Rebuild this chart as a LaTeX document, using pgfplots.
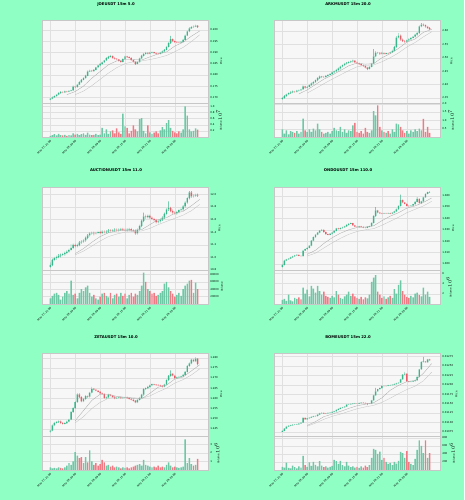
\documentclass[border=0pt]{standalone}
\usepackage{pgfplots}
\pgfplotsset{compat=1.18}
\usepackage{pgfplotstable}
\usepackage{fontspec}
\setmainfont{DejaVu Sans}
\definecolor{bgc}{RGB}{143,255,196}
\definecolor{upc}{RGB}{56,182,140}
\definecolor{dnc}{RGB}{236,92,104}
\definecolor{upv}{RGB}{110,200,166}
\definecolor{dnv}{RGB}{240,122,132}
\colorlet{axbg}{black!3}
\newcommand{\tickfont}{\fontsize{2.6}{3}\selectfont}
\newcommand{\titlefont}{\fontsize{3.8}{4.5}\selectfont\bfseries}

\pgfplotsset{
 base/.style={scale only axis, width=166pt, xmin=-8, xmax=152, xtick={0,24,48,72,96,120},
   axis background/.style={fill=axbg}, axis line style={draw=black!22, line width=0.3pt},
   grid=major, grid style={draw=black!12, line width=0.25pt},
   ytick pos=right, yticklabel pos=right, ylabel near ticks,
   tick style={draw=black!60, line width=0.25pt}, major tick length=1.2pt, tick align=outside,
   tick label style={font=\tickfont}, label style={font=\tickfont},
   scaled y ticks=false, /pgf/number format/assume math mode=true,
   yticklabel style={/pgf/number format/fixed, /pgf/number format/fixed zerofill, /pgf/number format/1000 sep={}, inner sep=1pt},
   ylabel style={inner sep=1pt},
   unbounded coords=discard},
 priceax/.style={base, height=83pt, xticklabels={}, xtick style={draw=none}, ylabel={Price}},
 candax/.style={priceax, ybar stacked, bar shift=0pt},
 maax/.style={priceax, hide axis, axis background/.style={}},
 volax/.style={base, height=34pt, ymin=0, xtick pos=bottom,
   xticklabels={{May 27, 21:00},{May 28, 03:00},{May 28, 09:00},{May 28, 15:00},{May 28, 21:00},{May 29, 03:00}},
   xticklabel style={rotate=45, anchor=north east, inner sep=0.8pt}},
 cb/.style={ybar, bar shift=0pt, draw=none, forget plot},
 sb/.style={draw=none, forget plot},
}

% stacked candles: base (invisible) l, lower wick, body, upper wick
\newcommand{\candles}[1]{%
 \addplot[sb, fill=none, bar width=1.4] table[x=x, y=l] {#1};
 \addplot[sb, fill=upc, bar width=0.35] table[x=x, y expr={\thisrow{c}>=\thisrow{o} ? min(\thisrow{o},\thisrow{c})-\thisrow{l} : 0}] {#1};
 \addplot[sb, fill=dnc, bar width=0.35] table[x=x, y expr={\thisrow{c}<\thisrow{o} ? min(\thisrow{o},\thisrow{c})-\thisrow{l} : 0}] {#1};
 \addplot[sb, fill=upc, bar width=1.4] table[x=x, y expr={\thisrow{c}>=\thisrow{o} ? \thisrow{c}-\thisrow{o} : 0}] {#1};
 \addplot[sb, fill=dnc, bar width=1.4] table[x=x, y expr={\thisrow{c}<\thisrow{o} ? \thisrow{o}-\thisrow{c} : 0}] {#1};
 \addplot[sb, fill=upc, bar width=0.35] table[x=x, y expr={\thisrow{c}>=\thisrow{o} ? \thisrow{h}-max(\thisrow{o},\thisrow{c}) : 0}] {#1};
 \addplot[sb, fill=dnc, bar width=0.35] table[x=x, y expr={\thisrow{c}<\thisrow{o} ? \thisrow{h}-max(\thisrow{o},\thisrow{c}) : 0}] {#1};
}
\newcommand{\vols}[1]{%
 \addplot[cb, bar width=1.4, fill=upv] table[x=x, y expr={\thisrow{c}>=\thisrow{o} ? \thisrow{v} : nan}] {#1};
 \addplot[cb, bar width=1.4, fill=dnv] table[x=x, y expr={\thisrow{c}<\thisrow{o} ? \thisrow{v} : nan}] {#1};
}
\newcommand{\mas}[1]{%
 \addplot[black!35, line width=0.3pt, mark=none] table[x=x, y=a] {#1};
 \addplot[black!25, line width=0.3pt, mark=none] table[x=x, y=b] {#1};
}

% ---------------- JOEUSDT ----------------
\pgfplotstableread{
x o h l c v
0 .1690 .1697 .1688 .1694 .04
2 .1694 .1703 .1692 .1700 .06
4 .1700 .1709 .1698 .1706 .09
6 .1706 .1714 .1703 .1712 .05
8 .1712 .1722 .1710 .1719 .10
10 .1719 .1727 .1717 .1724 .06
12 .1724 .1726 .1719 .1722 .05
14 .1722 .1730 .1720 .1727 .07
16 .1727 .1729 .1722 .1725 .04
18 .1725 .1732 .1723 .1729 .06
20 .1729 .1734 .1726 .1731 .05
22 .1731 .1752 .1729 .1748 .12
24 .1748 .1750 .1741 .1745 .08
26 .1745 .1760 .1743 .1757 .10
28 .1757 .1771 .1755 .1768 .06
30 .1768 .1781 .1765 .1778 .09
32 .1778 .1790 .1776 .1786 .12
34 .1786 .1800 .1784 .1796 .07
36 .1796 .1819 .1794 .1815 .14
38 .1815 .1823 .1812 .1819 .08
40 .1819 .1822 .1813 .1817 .06
42 .1817 .1826 .1815 .1822 .07
44 .1822 .1836 .1820 .1833 .10
46 .1833 .1845 .1830 .1842 .06
48 .1842 .1852 .1839 .1849 .08
50 .1849 .1859 .1846 .1856 .30
52 .1856 .1867 .1853 .1864 .12
54 .1864 .1878 .1862 .1874 .25
56 .1874 .1884 .1871 .1880 .10
58 .1880 .1889 .1877 .1884 .18
60 .1884 .1886 .1872 .1875 .22
62 .1875 .1878 .1869 .1872 .12
64 .1872 .1874 .1866 .1869 .28
66 .1869 .1871 .1859 .1862 .15
68 .1862 .1865 .1855 .1858 .10
70 .1858 .1873 .1856 .1870 .76
72 .1870 .1886 .1868 .1882 .35
74 .1882 .1885 .1876 .1879 .30
76 .1879 .1882 .1873 .1876 .12
78 .1876 .1878 .1863 .1866 .20
80 .1866 .1868 .1855 .1858 .38
82 .1858 .1860 .1845 .1849 .25
84 .1849 .1860 .1847 .1857 .18
86 .1857 .1877 .1855 .1873 .58
88 .1873 .1889 .1871 .1885 .62
90 .1885 .1896 .1882 .1893 .20
92 .1893 .1902 .1890 .1898 .12
94 .1898 .1900 .1891 .1894 .38
96 .1894 .1902 .1892 .1899 .15
98 .1899 .1904 .1896 .1901 .10
100 .1901 .1903 .1894 .1897 .14
102 .1897 .1899 .1891 .1894 .18
104 .1894 .1897 .1890 .1893 .12
106 .1893 .1902 .1891 .1899 .22
108 .1899 .1908 .1897 .1905 .32
110 .1905 .1914 .1902 .1911 .25
112 .1911 .1929 .1909 .1925 .45
114 .1925 .1945 .1922 .1941 .55
116 .1941 .1973 .1938 .1959 .30
118 .1959 .1962 .1946 .1950 .20
120 .1950 .1953 .1942 .1946 .15
122 .1946 .1949 .1941 .1945 .12
124 .1945 .1948 .1940 .1943 .18
126 .1943 .1950 .1941 .1947 .14
128 .1947 .1960 .1945 .1956 .25
130 .1956 .1979 .1954 .1975 1.00
132 .1975 .1997 .1972 .1993 .70
134 .1993 .2011 .1990 .2007 .25
136 .2007 .2016 .2004 .2012 .18
138 .2012 .2020 .2009 .2015 .20
140 .2015 .2023 .2012 .2019 .28
142 .2019 .2021 .2009 .2012 .24
}\tA
\pgfplotstableread{
x a b
16 .1712 nan
24 .1726 .1712
32 .1750 .1728
40 .1785 .1752
48 .1815 .1780
56 .1845 .1808
64 .1862 .1832
72 .1868 .1850
80 .1868 .1858
88 .1866 .1862
96 .1880 .1868
104 .1893 .1876
112 .1902 .1886
120 .1928 .1903
128 .1945 .1922
136 .1972 .1948
144 .1995 .1978
}\mA

% ---------------- ARKMUSDT ----------------
\pgfplotstableread{
x o h l c v
0 2.346 2.353 2.343 2.350 .45
2 2.350 2.360 2.347 2.357 .20
4 2.357 2.366 2.354 2.363 .40
6 2.363 2.371 2.360 2.368 .15
8 2.368 2.374 2.365 2.371 .35
10 2.371 2.377 2.368 2.374 .30
12 2.374 2.376 2.369 2.373 .25
14 2.373 2.380 2.371 2.377 .35
16 2.377 2.381 2.374 2.378 .20
18 2.378 2.385 2.375 2.382 .30
20 2.382 2.398 2.380 2.393 1.10
22 2.393 2.395 2.385 2.388 .40
24 2.388 2.394 2.386 2.391 .30
26 2.391 2.401 2.389 2.398 .45
28 2.398 2.407 2.396 2.404 .30
30 2.404 2.412 2.401 2.409 .50
32 2.409 2.419 2.406 2.416 .40
34 2.416 2.427 2.413 2.424 .80
36 2.424 2.433 2.421 2.430 .45
38 2.430 2.432 2.424 2.428 .30
40 2.428 2.432 2.425 2.429 .20
42 2.429 2.435 2.426 2.432 .25
44 2.432 2.439 2.429 2.436 .30
46 2.436 2.443 2.433 2.440 .20
48 2.440 2.448 2.437 2.445 .35
50 2.445 2.452 2.442 2.449 .55
52 2.449 2.458 2.446 2.455 .40
54 2.455 2.463 2.452 2.460 .35
56 2.460 2.470 2.457 2.467 .60
58 2.467 2.475 2.464 2.472 .30
60 2.472 2.481 2.469 2.478 .45
62 2.478 2.484 2.475 2.481 .25
64 2.481 2.487 2.478 2.484 .40
66 2.484 2.489 2.481 2.486 .35
68 2.486 2.493 2.483 2.489 .70
70 2.489 2.491 2.480 2.483 .85
72 2.483 2.486 2.476 2.479 .30
74 2.479 2.482 2.473 2.476 .25
76 2.476 2.479 2.469 2.472 .35
78 2.472 2.475 2.466 2.469 .20
80 2.469 2.472 2.460 2.463 .55
82 2.463 2.466 2.454 2.458 .30
84 2.458 2.469 2.456 2.466 .25
86 2.466 2.481 2.464 2.478 .40
88 2.478 2.532 2.476 2.505 1.55
90 2.505 2.524 2.502 2.519 1.30
92 2.519 2.522 2.514 2.518 1.90
94 2.518 2.521 2.511 2.515 .60
96 2.515 2.522 2.513 2.518 .40
98 2.518 2.520 2.511 2.514 .30
100 2.514 2.520 2.512 2.517 .25
102 2.517 2.519 2.513 2.516 .35
104 2.516 2.523 2.514 2.520 .20
106 2.520 2.530 2.518 2.526 .45
108 2.526 2.544 2.524 2.540 .30
110 2.540 2.580 2.538 2.575 .80
112 2.575 2.592 2.572 2.583 .75
114 2.583 2.586 2.564 2.568 .60
116 2.568 2.571 2.559 2.563 .40
118 2.563 2.566 2.556 2.560 .25
120 2.560 2.568 2.558 2.565 .35
122 2.565 2.572 2.562 2.569 .20
124 2.569 2.577 2.566 2.574 .40
126 2.574 2.582 2.571 2.579 .30
128 2.579 2.589 2.576 2.586 .45
130 2.586 2.596 2.583 2.592 .35
132 2.592 2.621 2.589 2.617 .50
134 2.617 2.629 2.614 2.624 .40
136 2.624 2.627 2.618 2.622 1.08
138 2.622 2.625 2.612 2.616 .30
140 2.616 2.619 2.608 2.611 .60
142 2.611 2.614 2.603 2.606 .25
}\tB
\pgfplotstableread{
x a b
16 2.365 nan
24 2.380 2.368
32 2.400 2.385
40 2.420 2.403
48 2.435 2.420
56 2.452 2.436
64 2.470 2.452
72 2.480 2.466
80 2.476 2.472
88 2.478 2.473
96 2.500 2.485
104 2.515 2.500
112 2.535 2.518
120 2.558 2.540
128 2.570 2.557
136 2.595 2.578
144 2.606 2.597
}\mB

% ---------------- AUCTIONUSDT ----------------
\pgfplotstableread{
x o h l c v
0 10.85 10.92 10.83 10.88 15000
2 10.88 10.98 10.86 10.96 22000
4 10.96 11.01 10.94 10.99 28000
6 10.99 11.03 10.96 11.01 30000
8 11.01 11.05 10.99 11.03 25000
10 11.03 11.06 11.00 11.04 12000
12 11.04 11.07 11.02 11.05 20000
14 11.05 11.09 11.03 11.07 30000
16 11.07 11.11 11.05 11.09 35000
18 11.09 11.14 11.07 11.12 28000
20 11.12 11.21 11.10 11.15 63000
22 11.15 11.22 11.13 11.20 25000
24 11.20 11.22 11.16 11.18 28000
26 11.18 11.22 11.16 11.20 15000
28 11.20 11.26 11.18 11.24 30000
30 11.24 11.27 11.22 11.25 40000
32 11.25 11.29 11.23 11.27 35000
34 11.27 11.33 11.25 11.31 45000
36 11.31 11.37 11.29 11.35 50000
38 11.35 11.40 11.33 11.38 30000
40 11.38 11.41 11.36 11.39 20000
42 11.39 11.41 11.35 11.38 25000
44 11.38 11.41 11.36 11.39 15000
46 11.39 11.42 11.37 11.40 12000
48 11.40 11.42 11.37 11.39 20000
50 11.39 11.43 11.37 11.41 28000
52 11.41 11.43 11.38 11.40 30000
54 11.40 11.43 11.38 11.41 22000
56 11.41 11.45 11.39 11.43 18000
58 11.43 11.45 11.40 11.42 30000
60 11.42 11.45 11.40 11.43 15000
62 11.43 11.46 11.41 11.44 25000
64 11.44 11.46 11.41 11.43 28000
66 11.43 11.46 11.41 11.44 20000
68 11.44 11.47 11.42 11.45 30000
70 11.45 11.47 11.42 11.44 22000
72 11.44 11.46 11.41 11.43 28000
74 11.43 11.46 11.41 11.44 15000
76 11.44 11.47 11.42 11.45 25000
78 11.45 11.47 11.41 11.43 30000
80 11.43 11.45 11.40 11.42 20000
82 11.42 11.44 11.36 11.38 28000
84 11.38 11.46 11.36 11.44 25000
86 11.44 11.52 11.42 11.50 35000
88 11.50 11.60 11.48 11.58 50000
90 11.58 11.71 11.56 11.65 85000
92 11.65 11.68 11.61 11.64 60000
94 11.64 11.68 11.62 11.66 40000
96 11.66 11.68 11.61 11.63 35000
98 11.63 11.65 11.59 11.61 28000
100 11.61 11.63 11.57 11.59 30000
102 11.59 11.61 11.54 11.56 22000
104 11.56 11.59 11.54 11.57 25000
106 11.57 11.62 11.55 11.60 30000
108 11.60 11.65 11.58 11.63 35000
110 11.63 11.71 11.61 11.69 55000
112 11.69 11.78 11.67 11.76 60000
114 11.76 11.89 11.74 11.78 45000
116 11.78 11.80 11.72 11.74 35000
118 11.74 11.76 11.69 11.71 28000
120 11.71 11.73 11.68 11.70 20000
122 11.70 11.74 11.68 11.72 25000
124 11.72 11.77 11.70 11.75 30000
126 11.75 11.78 11.73 11.76 22000
128 11.76 11.83 11.74 11.81 40000
130 11.81 11.89 11.79 11.87 50000
132 11.87 11.96 11.85 11.94 55000
134 11.94 12.05 11.92 12.03 63000
136 12.03 12.05 11.95 11.97 65000
138 11.97 12.00 11.95 11.98 30000
140 11.98 12.01 11.96 11.99 58000
142 11.99 12.01 11.96 11.98 40000
}\tC
\pgfplotstableread{
x a b
24 11.06 11.04
32 11.14 11.10
40 11.24 11.18
48 11.33 11.26
56 11.39 11.33
64 11.42 11.37
72 11.43 11.40
80 11.43 11.41
88 11.44 11.42
96 11.52 11.46
104 11.60 11.52
112 11.63 11.57
120 11.70 11.62
128 11.73 11.67
136 11.82 11.74
144 11.92 11.84
}\mC

% ---------------- ONDOUSDT ----------------
\pgfplotstableread{
x o h l c v
0 0.9975 1.0000 0.9968 0.9991 .8
2 0.9991 1.0036 0.9988 1.0030 1.0
4 1.0030 1.0045 1.0025 1.0040 .6
6 1.0040 1.0052 1.0035 1.0048 1.8
8 1.0048 1.0062 1.0044 1.0058 .7
10 1.0058 1.0070 1.0054 1.0066 .5
12 1.0066 1.0079 1.0062 1.0075 1.2
14 1.0075 1.0085 1.0071 1.0080 1.0
16 1.0080 1.0083 1.0068 1.0072 1.3
18 1.0072 1.0076 1.0064 1.0068 .9
20 1.0068 1.0124 1.0065 1.0118 3.2
22 1.0118 1.0135 1.0114 1.0130 2.0
24 1.0130 1.0146 1.0126 1.0142 2.8
26 1.0142 1.0165 1.0138 1.0160 1.5
28 1.0160 1.0210 1.0156 1.0205 3.5
30 1.0205 1.0240 1.0201 1.0235 3.0
32 1.0235 1.0263 1.0230 1.0258 2.2
34 1.0258 1.0280 1.0254 1.0275 3.5
36 1.0275 1.0298 1.0271 1.0293 2.5
38 1.0293 1.0305 1.0288 1.0300 1.8
40 1.0300 1.0303 1.0275 1.0280 2.4
42 1.0280 1.0284 1.0257 1.0262 1.6
44 1.0262 1.0266 1.0251 1.0256 1.4
46 1.0256 1.0270 1.0252 1.0266 1.2
48 1.0266 1.0280 1.0262 1.0275 1.6
50 1.0275 1.0295 1.0271 1.0290 1.3
52 1.0290 1.0317 1.0286 1.0312 2.5
54 1.0312 1.0316 1.0303 1.0308 1.8
56 1.0308 1.0320 1.0304 1.0315 1.2
58 1.0315 1.0327 1.0311 1.0322 1.0
60 1.0322 1.0335 1.0318 1.0330 1.5
62 1.0330 1.0347 1.0326 1.0342 1.8
64 1.0342 1.0358 1.0338 1.0353 2.4
66 1.0353 1.0363 1.0349 1.0358 1.6
68 1.0358 1.0361 1.0335 1.0340 2.0
70 1.0340 1.0344 1.0323 1.0328 1.5
72 1.0328 1.0332 1.0320 1.0325 1.2
74 1.0325 1.0335 1.0321 1.0330 1.0
76 1.0330 1.0334 1.0321 1.0326 1.4
78 1.0326 1.0330 1.0315 1.0320 .9
80 1.0320 1.0324 1.0313 1.0318 1.3
82 1.0318 1.0331 1.0314 1.0326 1.1
84 1.0326 1.0337 1.0322 1.0332 1.8
86 1.0332 1.0365 1.0328 1.0360 4.3
88 1.0360 1.0426 1.0356 1.0420 5.1
90 1.0420 1.0500 1.0416 1.0470 5.6
92 1.0470 1.0474 1.0445 1.0450 2.4
94 1.0450 1.0455 1.0440 1.0445 1.8
96 1.0445 1.0449 1.0438 1.0443 1.2
98 1.0443 1.0452 1.0439 1.0447 1.5
100 1.0447 1.0450 1.0440 1.0445 1.0
102 1.0445 1.0452 1.0441 1.0447 1.3
104 1.0447 1.0451 1.0437 1.0442 1.6
106 1.0442 1.0455 1.0438 1.0450 1.2
108 1.0450 1.0467 1.0446 1.0462 2.9
110 1.0462 1.0485 1.0458 1.0480 2.0
112 1.0480 1.0515 1.0476 1.0510 3.7
114 1.0510 1.0609 1.0506 1.0560 4.6
116 1.0560 1.0564 1.0535 1.0540 2.5
118 1.0540 1.0544 1.0523 1.0528 1.8
120 1.0528 1.0532 1.0505 1.0510 1.4
122 1.0510 1.0514 1.0503 1.0508 1.2
124 1.0508 1.0517 1.0504 1.0512 1.6
126 1.0512 1.0530 1.0508 1.0525 1.3
128 1.0525 1.0550 1.0521 1.0545 2.0
130 1.0545 1.0588 1.0541 1.0572 2.2
132 1.0572 1.0576 1.0530 1.0535 1.7
134 1.0535 1.0555 1.0531 1.0550 1.5
136 1.0550 1.0590 1.0546 1.0585 3.2
138 1.0585 1.0620 1.0581 1.0615 1.8
140 1.0615 1.0635 1.0611 1.0630 2.4
142 1.0630 1.0638 1.0624 1.0632 1.4
}\tD
\pgfplotstableread{
x a b
24 1.0085 1.0070
32 1.0120 1.0095
40 1.0180 1.0140
48 1.0230 1.0185
56 1.0270 1.0225
64 1.0300 1.0260
72 1.0320 1.0285
80 1.0325 1.0300
88 1.0335 1.0310
96 1.0380 1.0340
104 1.0420 1.0375
112 1.0450 1.0410
120 1.0490 1.0450
128 1.0510 1.0480
136 1.0540 1.0510
144 1.0580 1.0550
}\mD

% ---------------- ZETAUSDT ----------------
\pgfplotstableread{
x o h l c v
0 1.2436 1.2446 1.2432 1.2442 .3
2 1.2442 1.2471 1.2439 1.2467 .2
4 1.2467 1.2484 1.2463 1.2480 .25
6 1.2480 1.2488 1.2476 1.2484 .2
8 1.2484 1.2491 1.2480 1.2487 .3
10 1.2487 1.2490 1.2476 1.2480 .25
12 1.2480 1.2483 1.2471 1.2475 .2
14 1.2475 1.2482 1.2472 1.2478 .3
16 1.2478 1.2490 1.2475 1.2486 .5
18 1.2486 1.2500 1.2482 1.2496 .8
20 1.2496 1.2537 1.2492 1.2533 .6
22 1.2533 1.2556 1.2529 1.2552 1.0
24 1.2552 1.2586 1.2548 1.2582 2.1
26 1.2582 1.2626 1.2578 1.2620 1.7
28 1.2620 1.2624 1.2602 1.2606 1.4
30 1.2606 1.2610 1.2581 1.2585 1.5
32 1.2585 1.2602 1.2581 1.2598 .8
34 1.2598 1.2615 1.2594 1.2611 1.5
36 1.2611 1.2614 1.2604 1.2608 .9
38 1.2608 1.2632 1.2604 1.2628 2.3
40 1.2628 1.2656 1.2624 1.2647 1.0
42 1.2647 1.2650 1.2639 1.2643 .6
44 1.2643 1.2646 1.2634 1.2638 .8
46 1.2638 1.2641 1.2628 1.2632 .5
48 1.2632 1.2635 1.2621 1.2625 .7
50 1.2625 1.2628 1.2618 1.2622 1.2
52 1.2622 1.2625 1.2598 1.2602 .9
54 1.2602 1.2609 1.2599 1.2605 .5
56 1.2605 1.2622 1.2601 1.2618 .6
58 1.2618 1.2621 1.2610 1.2614 .4
60 1.2614 1.2617 1.2603 1.2607 .5
62 1.2607 1.2610 1.2596 1.2600 .3
64 1.2600 1.2607 1.2597 1.2603 .4
66 1.2603 1.2609 1.2600 1.2605 .3
68 1.2605 1.2608 1.2598 1.2602 .2
70 1.2602 1.2607 1.2599 1.2603 .3
72 1.2603 1.2609 1.2600 1.2605 .25
74 1.2605 1.2608 1.2598 1.2602 .3
76 1.2602 1.2605 1.2594 1.2598 .2
78 1.2598 1.2601 1.2590 1.2594 .3
80 1.2594 1.2597 1.2584 1.2588 .4
82 1.2588 1.2591 1.2576 1.2580 .5
84 1.2580 1.2596 1.2577 1.2592 .6
86 1.2592 1.2607 1.2589 1.2603 .7
88 1.2603 1.2622 1.2600 1.2618 .5
90 1.2618 1.2649 1.2614 1.2645 1.2
92 1.2645 1.2654 1.2641 1.2650 .6
94 1.2650 1.2661 1.2646 1.2657 .5
96 1.2657 1.2668 1.2653 1.2664 .4
98 1.2664 1.2674 1.2660 1.2670 .3
100 1.2670 1.2673 1.2663 1.2667 .4
102 1.2667 1.2670 1.2662 1.2666 .3
104 1.2666 1.2669 1.2660 1.2664 .5
106 1.2664 1.2667 1.2657 1.2661 .3
108 1.2661 1.2664 1.2654 1.2658 .4
110 1.2658 1.2671 1.2655 1.2667 .3
112 1.2667 1.2694 1.2664 1.2690 .6
114 1.2690 1.2714 1.2687 1.2710 .9
116 1.2710 1.2738 1.2707 1.2721 .5
118 1.2721 1.2724 1.2708 1.2712 .3
120 1.2712 1.2715 1.2696 1.2700 .4
122 1.2700 1.2707 1.2697 1.2703 .3
124 1.2703 1.2710 1.2700 1.2706 .25
126 1.2706 1.2712 1.2703 1.2708 .3
128 1.2708 1.2720 1.2705 1.2716 .4
130 1.2716 1.2734 1.2712 1.2730 3.6
132 1.2730 1.2764 1.2726 1.2760 .8
134 1.2760 1.2776 1.2756 1.2772 1.4
136 1.2772 1.2794 1.2768 1.2790 .7
138 1.2790 1.2794 1.2778 1.2782 .5
140 1.2782 1.2803 1.2778 1.2795 .6
142 1.2795 1.2798 1.2762 1.2770 1.3
}\tE
\pgfplotstableread{
x a b
24 1.2490 1.2480
32 1.2540 1.2510
40 1.2590 1.2550
48 1.2620 1.2580
56 1.2620 1.2600
64 1.2610 1.2607
72 1.2605 1.2605
80 1.2600 1.2603
88 1.2598 1.2600
96 1.2625 1.2612
104 1.2655 1.2632
112 1.2665 1.2650
120 1.2695 1.2675
128 1.2705 1.2692
136 1.2735 1.2715
144 1.2765 1.2745
}\mE

% ---------------- BOMEUSDT ----------------
\pgfplotstableread{
x o h l c v
0 0.010750 0.010790 0.010740 0.010772 80
2 0.010772 0.010850 0.010765 0.010834 60
4 0.010834 0.010905 0.010828 0.010890 183
6 0.010890 0.010925 0.010882 0.010910 50
8 0.010910 0.010935 0.010902 0.010922 40
10 0.010922 0.010948 0.010915 0.010935 110
12 0.010935 0.010955 0.010928 0.010942 70
14 0.010942 0.010960 0.010932 0.010949 40
16 0.010949 0.010982 0.010942 0.010970 90
18 0.010970 0.011005 0.010962 0.010993 60
20 0.010993 0.011143 0.010988 0.011117 350
22 0.011117 0.011125 0.011070 0.011081 120
24 0.011081 0.011118 0.011075 0.011105 80
26 0.011105 0.011135 0.011098 0.011125 190
28 0.011125 0.011155 0.011118 0.011145 100
30 0.011145 0.011172 0.011138 0.011160 200
32 0.011160 0.011180 0.011152 0.011169 130
34 0.011169 0.011215 0.011162 0.011205 90
36 0.011205 0.011252 0.011198 0.011240 220
38 0.011240 0.011262 0.011232 0.011250 110
40 0.011250 0.011256 0.011222 0.011231 70
42 0.011231 0.011250 0.011225 0.011240 90
44 0.011240 0.011262 0.011234 0.011252 60
46 0.011252 0.011268 0.011245 0.011258 80
48 0.011258 0.011285 0.011251 0.011275 100
50 0.011275 0.011305 0.011268 0.011293 250
52 0.011293 0.011342 0.011286 0.011330 220
54 0.011330 0.011365 0.011322 0.011355 150
56 0.011355 0.011392 0.011348 0.011381 230
58 0.011381 0.011410 0.011374 0.011400 120
60 0.011400 0.011430 0.011393 0.011420 90
62 0.011420 0.011480 0.011414 0.011470 200
64 0.011470 0.011488 0.011462 0.011478 110
66 0.011478 0.011496 0.011470 0.011487 70
68 0.011487 0.011510 0.011480 0.011500 90
70 0.011500 0.011515 0.011492 0.011505 60
72 0.011505 0.011512 0.011488 0.011496 80
74 0.011496 0.011520 0.011490 0.011510 50
76 0.011510 0.011533 0.011503 0.011523 90
78 0.011523 0.011530 0.011506 0.011514 60
80 0.011514 0.011520 0.011497 0.011505 110
82 0.011505 0.011512 0.011460 0.011496 70
84 0.011496 0.011510 0.011488 0.011500 120
86 0.011500 0.011595 0.011493 0.011584 300
88 0.011584 0.011730 0.011578 0.011717 530
90 0.011717 0.011911 0.011710 0.011823 500
92 0.011823 0.011890 0.011815 0.011880 400
94 0.011880 0.011920 0.011872 0.011910 460
96 0.011910 0.011975 0.011902 0.011964 250
98 0.011964 0.011972 0.011950 0.011960 300
100 0.011960 0.011978 0.011952 0.011968 200
102 0.011968 0.011992 0.011960 0.011982 150
104 0.011982 0.011998 0.011975 0.011990 180
106 0.011990 0.012010 0.011982 0.012000 120
108 0.012000 0.012025 0.011992 0.012015 200
110 0.012015 0.012045 0.012008 0.012035 160
112 0.012035 0.012062 0.012028 0.012052 230
114 0.012052 0.012150 0.012045 0.012141 450
116 0.012141 0.012275 0.012135 0.012264 420
118 0.012264 0.012335 0.012258 0.012291 300
120 0.012291 0.012298 0.012075 0.012088 470
122 0.012088 0.012095 0.012060 0.012070 200
124 0.012070 0.012090 0.012062 0.012080 150
126 0.012080 0.012105 0.012072 0.012095 120
128 0.012095 0.012125 0.012088 0.012114 280
130 0.012114 0.012215 0.012108 0.012203 500
132 0.012203 0.012420 0.012195 0.012406 740
134 0.012406 0.012612 0.012398 0.012600 600
136 0.012600 0.012732 0.012592 0.012618 420
138 0.012618 0.012625 0.012580 0.012590 740
140 0.012590 0.012682 0.012582 0.012671 300
142 0.012671 0.012680 0.012635 0.012644 420
}\tF
\pgfplotstableread{
x a b
24 0.010920 0.010900
32 0.011020 0.010980
40 0.011150 0.011080
48 0.011220 0.011160
56 0.011290 0.011220
64 0.011370 0.011290
72 0.011440 0.011360
80 0.011480 0.011410
88 0.011520 0.011450
96 0.011650 0.011530
104 0.011850 0.011640
112 0.011980 0.011760
120 0.012080 0.011870
128 0.012110 0.011960
136 0.012300 0.012100
144 0.012560 0.012330
}\mF

\begin{document}
\begin{tikzpicture}[x=1pt,y=1pt]
\fill[bgc] (0,0) rectangle (464,500);
\useasboundingbox (0,0) rectangle (464,500);

% titles
\node[font=\titlefont] at (116,496) {JOEUSDT 15m 5.0};
\node[font=\titlefont] at (348,496) {ARKMUSDT 15m 20.0};
\node[font=\titlefont] at (116,329.5) {AUCTIONUSDT 15m 11.0};
\node[font=\titlefont] at (348,329.5) {ONDOUSDT 15m 110.0};
\node[font=\titlefont] at (116,163) {ZETAUSDT 15m 10.0};
\node[font=\titlefont] at (348,163) {BOMEUSDT 15m 22.0};

% ===== JOE =====
\begin{axis}[candax, at={(42pt,480pt)}, anchor=north west, ymin=0.1675, ymax=0.2044,
  ytick={0.170,0.175,0.180,0.185,0.190,0.195,0.200}, yticklabel style={/pgf/number format/precision=3}]
\candles{\tA}
\end{axis}
\begin{axis}[maax, at={(42pt,480pt)}, anchor=north west, ymin=0.1675, ymax=0.2044]
\mas{\mA}
\end{axis}
\begin{axis}[volax, at={(42pt,397pt)}, anchor=north west, ymax=1.11,
  ytick={0.2,0.4,0.6,0.8,1.0}, yticklabel style={/pgf/number format/precision=1}, ylabel={Volume $10^{7}$}]
\vols{\tA}
\end{axis}

% ===== ARKM =====
\begin{axis}[candax, at={(274pt,480pt)}, anchor=north west, ymin=2.331, ymax=2.641,
  ytick={2.35,2.40,2.45,2.50,2.55,2.60}, yticklabel style={/pgf/number format/precision=2}]
\candles{\tB}
\end{axis}
\begin{axis}[maax, at={(274pt,480pt)}, anchor=north west, ymin=2.331, ymax=2.641]
\mas{\mB}
\end{axis}
\begin{axis}[volax, at={(274pt,397pt)}, anchor=north west, ymax=2.04,
  ytick={0.5,1.0,1.5,2.0}, yticklabel style={/pgf/number format/precision=1}, ylabel={Volume $10^{7}$}]
\vols{\tB}
\end{axis}

% ===== AUCTION =====
\begin{axis}[candax, at={(42pt,313pt)}, anchor=north west, ymin=10.8, ymax=12.117,
  ytick={10.8,11.0,11.2,11.4,11.6,11.8,12.0}, yticklabel style={/pgf/number format/precision=1}]
\candles{\tC}
\end{axis}
\begin{axis}[maax, at={(42pt,313pt)}, anchor=north west, ymin=10.8, ymax=12.117]
\mas{\mC}
\end{axis}
\begin{axis}[volax, at={(42pt,230pt)}, anchor=north west, ymax=92000,
  ytick={20000,40000,60000,80000}, yticklabel style={/pgf/number format/precision=0}, ylabel={Volume}]
\vols{\tC}
\end{axis}

% ===== ONDO =====
\begin{axis}[candax, at={(274pt,313pt)}, anchor=north west, ymin=0.9947, ymax=1.0676,
  ytick={1.00,1.01,1.02,1.03,1.04,1.05,1.06}, yticklabel style={/pgf/number format/precision=3}]
\candles{\tD}
\end{axis}
\begin{axis}[maax, at={(274pt,313pt)}, anchor=north west, ymin=0.9947, ymax=1.0676]
\mas{\mD}
\end{axis}
\begin{axis}[volax, at={(274pt,230pt)}, anchor=north west, ymax=6.6,
  ytick={2,4,6}, yticklabel style={/pgf/number format/precision=0}, ylabel={Volume $10^{6}$}]
\vols{\tD}
\end{axis}

% ===== ZETA =====
\begin{axis}[candax, at={(42pt,147pt)}, anchor=north west, ymin=1.2415, ymax=1.2823,
  ytick={1.245,1.250,1.255,1.260,1.265,1.270,1.275,1.280}, yticklabel style={/pgf/number format/precision=3}]
\candles{\tE}
\end{axis}
\begin{axis}[maax, at={(42pt,147pt)}, anchor=north west, ymin=1.2415, ymax=1.2823]
\mas{\mE}
\end{axis}
\begin{axis}[volax, at={(42pt,64pt)}, anchor=north west, ymax=4.0,
  ytick={1,2,3}, yticklabel style={/pgf/number format/precision=0}, ylabel={Volume $10^{6}$}]
\vols{\tE}
\end{axis}

% ===== BOME =====
\begin{axis}[candax, at={(274pt,147pt)}, anchor=north west, ymin=0.010639, ymax=0.012838,
  ytick={0.01075,0.01100,0.01125,0.01150,0.01175,0.01200,0.01225,0.01250,0.01275}, yticklabel style={/pgf/number format/precision=5}]
\candles{\tF}
\end{axis}
\begin{axis}[maax, at={(274pt,147pt)}, anchor=north west, ymin=0.010639, ymax=0.012838]
\mas{\mF}
\end{axis}
\begin{axis}[volax, at={(274pt,64pt)}, anchor=north west, ymax=850,
  ytick={200,400,600,800}, yticklabel style={/pgf/number format/precision=0}, ylabel={Volume $10^{6}$}]
\vols{\tF}
\end{axis}
\end{tikzpicture}
\end{document}
